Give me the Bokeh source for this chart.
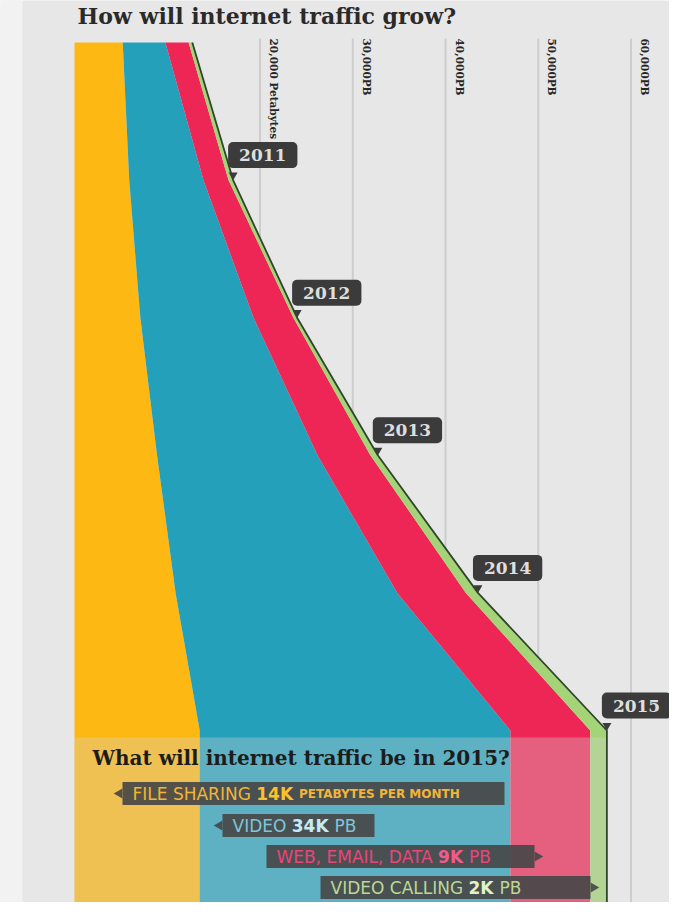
import numpy as np
from bokeh.plotting import figure
from bokeh.models import Range1d, ColumnDataSource
from bokeh.core.properties import value
from bokeh.embed import file_html
from bokeh.resources import INLINE

# ---------------- data (petabytes per month) ----------------
YEARS = [2010, 2011, 2012, 2013, 2014, 2015]
FILE_SHARING = [5200, 5900, 7100, 8900, 10900, 13500]
VIDEO = [4600, 8000, 12200, 17300, 23900, 33500]
WEB_EMAIL_DATA = [2500, 2700, 4300, 5700, 7400, 8600]
VIDEO_CALLING = [400, 500, 400, 800, 1300, 1800]
SERIES = ["file_sharing", "video", "web_email_data", "video_calling"]
SERIES_COLORS = ["#FDB813", "#24A0BB", "#EE2656", "#A5D478"]

GRID_TICKS = [20000, 30000, 40000, 50000, 60000]
GRID_LABELS = ["20,000 Petabytes", "30,000PB", "40,000PB", "50,000PB", "60,000PB"]
CALLOUT_LABELS = ["2011", "2012", "2013", "2014", "2015"]

TITLE = "How will internet traffic grow?"
QUESTION = "What will internet traffic be in 2015?"
SUMMARY_NAMES = ["FILE SHARING", "VIDEO", "WEB, EMAIL, DATA", "VIDEO CALLING"]
SUMMARY_VALUES = ["14K", "34K", "9K", "2K"]
SUMMARY_UNITS = ["PETABYTES PER MONTH", "PB", "PB", "PB"]

# ---------------- layout helpers ----------------
W, H = 669, 902
X0, PX_PER_PB = 74.0, 92.75 / 10000.0     # canvas px of 0 PB, px per PB
Y0, PX_PER_YEAR = 42.0, 137.6             # canvas px of first year, px per year
BG = "#e7e7e7"


def X(px):
    return (px - X0) / PX_PER_PB


def Y(py):
    return YEARS[0] + (py - Y0) / PX_PER_YEAR


def text_w(s, size, bold=False):
    try:
        from PIL import ImageFont
        f = ImageFont.truetype("DejaVuSans-Bold.ttf" if bold else "DejaVuSans.ttf", size)
        return f.getlength(s)
    except Exception:
        return len(s) * size * (0.72 if bold else 0.66)


Y_BOTTOM = Y(H)

p = figure(width=W, height=H, x_range=Range1d(X(0), X(W)),
           y_range=Range1d(Y_BOTTOM, Y(0)), output_backend="svg",
           toolbar_location=None, x_axis_type=None, y_axis_type=None,
           min_border=0, background_fill_color=BG, border_fill_color=BG,
           outline_line_color=None, title=None)

# left light strip
p.quad(left=[X(0)], right=[X(22)], top=[Y(0)], bottom=[Y_BOTTOM],
       fill_color="#f2f2f2", line_color=None)

# vertical gridlines
p.segment(x0=GRID_TICKS, y0=[Y(38)] * len(GRID_TICKS), x1=GRID_TICKS,
          y1=[Y_BOTTOM] * len(GRID_TICKS), line_color="#cdcdcd", line_width=2)
p.text(x=GRID_TICKS, y=[Y(38)] * len(GRID_TICKS), text=GRID_LABELS,
       angle=-np.pi / 2, anchor="bottom_left", x_offset=8,
       text_font=value("DejaVu Serif"), text_font_style="bold",
       text_font_size="10.5px", text_color="#262626")

# stacked areas, continued straight down after the last year
ys = YEARS + [Y_BOTTOM]
cols = {}
for name, arr in zip(SERIES, [FILE_SHARING, VIDEO, WEB_EMAIL_DATA, VIDEO_CALLING]):
    cols[name] = list(arr) + [arr[-1]]
cols["year"] = ys
src = ColumnDataSource(cols)
p.harea_stack(SERIES, y="year", color=SERIES_COLORS, source=src)

total = np.array(FILE_SHARING) + np.array(VIDEO) + np.array(WEB_EMAIL_DATA) + np.array(VIDEO_CALLING)
total_ext = list(total) + [total[-1]]

# dimming overlay of the summary panel
p.quad(left=[0], right=[total[-1]], top=[YEARS[-1] + 7 / PX_PER_YEAR], bottom=[Y_BOTTOM],
       fill_color="#d4d4d4", fill_alpha=0.33, line_color=None)

# dark outline of the total
p.line(x=total_ext, y=ys, line_color="#2f452c", line_width=1.8)

# year callouts
CALLOUT_BG = "#3b3b3b"
tip_x = list(total[1:])
tip_y = YEARS[1:]
p.scatter(x=tip_x, y=[y - 5 / PX_PER_YEAR for y in tip_y], marker="inverted_triangle",
          size=9, fill_color=CALLOUT_BG, line_color=None)
p.text(x=tip_x, y=tip_y, text=CALLOUT_LABELS, anchor="bottom_left",
       x_offset=-5, y_offset=-12, text_color="#dedede",
       text_font=value("DejaVu Serif"), text_font_style="bold", text_font_size="17px",
       background_fill_color=CALLOUT_BG, border_radius=5,
       padding=dict(left=11, right=11, top=7, bottom=7))

# titles
p.text(x=[X(77)], y=[Y(15)], text=[TITLE], anchor="center_left",
       text_font=value("DejaVu Serif"), text_font_style="bold",
       text_font_size="22px", text_color="#2a2a2a")
p.text(x=[X(92)], y=[Y(757)], text=[QUESTION], anchor="center_left",
       text_font=value("DejaVu Serif"), text_font_style="bold",
       text_font_size="20px", text_color="#1c1c1c")

# summary label boxes
BOX_L = [122, 222, 266, 320]
BOX_R = [504, 374, 534, 590]
BOX_CY = [793, 825, 856, 887]
ARROW_SIDE = ["left", "left", "right", "right"]
NAME_COLORS = ["#f3b537", "#7fc6da", "#e9457b", "#bcd996"]
VALUE_COLORS = ["#fcc02c", "#c4ebf5", "#f25a8e", "#e2f2c8"]
BOX_COLOR = "#484848"

for i in range(4):
    l, r, cy = BOX_L[i], BOX_R[i], BOX_CY[i]
    segs = [(SUMMARY_NAMES[i] + " ", 17, False, NAME_COLORS[i]),
            (SUMMARY_VALUES[i] + " ", 17, True, VALUE_COLORS[i])]
    if i == 0:
        segs.append((SUMMARY_UNITS[i], 12, True, NAME_COLORS[i]))
    else:
        segs.append((SUMMARY_UNITS[i], 17, False, NAME_COLORS[i]))
    need = 10 + sum(text_w(s, size, bold) for s, size, bold, _ in segs) + 10
    r = max(r, l + need)
    p.rect(x=[X((l + r) / 2)], y=[Y(cy)], width=r - l, height=23,
           width_units="screen", height_units="screen",
           fill_color=BOX_COLOR, fill_alpha=0.92, line_color=None)
    if ARROW_SIDE[i] == "left":
        p.scatter(x=[X(l - 3)], y=[Y(cy)], marker="triangle", angle=np.pi / 2,
                  size=10, fill_color=BOX_COLOR, fill_alpha=0.92, line_color=None)
    else:
        p.scatter(x=[X(r + 3)], y=[Y(cy)], marker="triangle", angle=-np.pi / 2,
                  size=10, fill_color=BOX_COLOR, fill_alpha=0.92, line_color=None)
    cx = l + 10
    for s, size, bold, col in segs:
        p.text(x=[X(cx)], y=[Y(cy)], text=[s.strip()], anchor="center_left",
               text_font=value("DejaVu Sans"), text_font_style="bold" if bold else "normal",
               text_font_size=f"{size}px", text_color=col)
        cx += text_w(s, size, bold)

open("out.html", "w").write(file_html(p, INLINE))
